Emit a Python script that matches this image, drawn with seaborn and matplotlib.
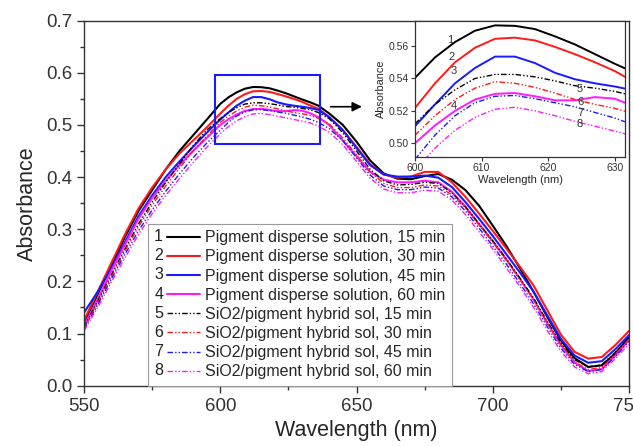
import numpy as np
import pandas as pd
import matplotlib
matplotlib.use("Agg")
import matplotlib.pyplot as plt
import matplotlib.patches as patches
import seaborn as sns
from matplotlib.legend_handler import HandlerLine2D
from matplotlib.lines import Line2D
from matplotlib.text import Text
from matplotlib.ticker import MultipleLocator, FormatStrFormatter

# ---- data ----
wavelength = [550, 555, 560, 565, 570, 575, 580, 585, 590, 595,
              600, 603, 606, 609, 612, 615, 618, 621, 624, 627, 630, 633, 636,
              640, 645, 650, 655, 660, 665, 670, 675, 680, 685, 690, 695,
              700, 705, 710, 715, 720, 725, 730, 735, 740, 745, 750]

pig_15 = [0.120, 0.175, 0.230, 0.285, 0.335, 0.375, 0.415, 0.450, 0.480, 0.510,
          0.5404, 0.553, 0.5625, 0.5695, 0.5728, 0.5725, 0.5705, 0.566, 0.561, 0.555, 0.549, 0.5435, 0.537,
          0.522, 0.500, 0.468, 0.432, 0.407, 0.397, 0.396, 0.402, 0.406, 0.395, 0.375, 0.345,
          0.307, 0.268, 0.225, 0.180, 0.132, 0.087, 0.053, 0.036, 0.039, 0.062, 0.093]
pig_30 = [0.125, 0.180, 0.235, 0.290, 0.340, 0.380, 0.415, 0.445, 0.470, 0.495,
          0.5218, 0.537, 0.550, 0.559, 0.5645, 0.5652, 0.5635, 0.5595, 0.555, 0.550, 0.5445, 0.5375, 0.531,
          0.515, 0.490, 0.458, 0.425, 0.405, 0.399, 0.401, 0.410, 0.410, 0.390, 0.362, 0.330,
          0.297, 0.263, 0.228, 0.192, 0.145, 0.098, 0.065, 0.052, 0.055, 0.078, 0.105]
pig_45 = [0.140, 0.180, 0.225, 0.275, 0.325, 0.365, 0.400, 0.430, 0.458, 0.485,
          0.5105, 0.524, 0.537, 0.5465, 0.5535, 0.5535, 0.5495, 0.5435, 0.5395, 0.537, 0.535, 0.5325, 0.529,
          0.515, 0.490, 0.456, 0.423, 0.405, 0.401, 0.401, 0.403, 0.399, 0.381, 0.352, 0.320,
          0.287, 0.252, 0.217, 0.180, 0.135, 0.090, 0.058, 0.044, 0.047, 0.070, 0.097]
pig_60 = [0.115, 0.165, 0.220, 0.270, 0.320, 0.360, 0.393, 0.423, 0.450, 0.475,
          0.500, 0.511, 0.520, 0.527, 0.5305, 0.531, 0.529, 0.5265, 0.5265, 0.5285, 0.5275, 0.5225, 0.515,
          0.500, 0.470, 0.440, 0.410, 0.395, 0.390, 0.390, 0.393, 0.390, 0.372, 0.343, 0.310,
          0.277, 0.242, 0.205, 0.165, 0.120, 0.078, 0.045, 0.028, 0.032, 0.058, 0.088]
sol_15 = [0.112, 0.162, 0.212, 0.262, 0.310, 0.352, 0.390, 0.425, 0.460, 0.490,
          0.512, 0.524, 0.533, 0.540, 0.5425, 0.5425, 0.541, 0.5385, 0.5355, 0.534, 0.532, 0.529, 0.524,
          0.512, 0.485, 0.450, 0.415, 0.393, 0.385, 0.386, 0.390, 0.388, 0.370, 0.343, 0.310,
          0.278, 0.243, 0.206, 0.168, 0.123, 0.082, 0.050, 0.036, 0.040, 0.064, 0.092]
sol_30 = [0.110, 0.158, 0.208, 0.258, 0.305, 0.346, 0.383, 0.417, 0.450, 0.478,
          0.505, 0.517, 0.527, 0.534, 0.538, 0.537, 0.5345, 0.531, 0.527, 0.524, 0.5215, 0.518, 0.513,
          0.502, 0.475, 0.443, 0.410, 0.388, 0.380, 0.380, 0.385, 0.383, 0.366, 0.340, 0.308,
          0.275, 0.240, 0.203, 0.165, 0.120, 0.079, 0.046, 0.031, 0.035, 0.060, 0.089]
sol_45 = [0.108, 0.155, 0.204, 0.252, 0.297, 0.337, 0.373, 0.406, 0.437, 0.465,
          0.490, 0.505, 0.517, 0.525, 0.529, 0.5295, 0.5275, 0.525, 0.5225, 0.519, 0.5155, 0.511, 0.505,
          0.493, 0.470, 0.437, 0.404, 0.383, 0.376, 0.376, 0.381, 0.379, 0.362, 0.335, 0.302,
          0.268, 0.233, 0.196, 0.157, 0.113, 0.072, 0.041, 0.027, 0.031, 0.056, 0.085]
sol_60 = [0.105, 0.150, 0.198, 0.245, 0.290, 0.330, 0.365, 0.397, 0.428, 0.457,
          0.483, 0.497, 0.508, 0.516, 0.521, 0.5222, 0.520, 0.517, 0.5135, 0.5105, 0.5075, 0.504, 0.498,
          0.486, 0.462, 0.430, 0.398, 0.377, 0.370, 0.370, 0.375, 0.373, 0.356, 0.328, 0.295,
          0.262, 0.226, 0.190, 0.150, 0.106, 0.066, 0.036, 0.023, 0.027, 0.052, 0.080]

labels = ["Pigment disperse solution, 15 min", "Pigment disperse solution, 30 min",
          "Pigment disperse solution, 45 min", "Pigment disperse solution, 60 min",
          "SiO2/pigment hybrid sol, 15 min", "SiO2/pigment hybrid sol, 30 min",
          "SiO2/pigment hybrid sol, 45 min", "SiO2/pigment hybrid sol, 60 min"]
series = [pig_15, pig_30, pig_45, pig_60, sol_15, sol_30, sol_45, sol_60]
colors = ["black", "#ff1a1a", "#1a1aff", "#ff1aff"] * 2
dashdot = (0, (4, 1.5, 1, 1.5, 1, 1.5))
styles = ["-"] * 4 + [dashdot] * 4

# ---- style ----
sns.set_style("ticks")
plt.rcParams["font.family"] = ["Liberation Sans", "DejaVu Sans"]
plt.rcParams["axes.edgecolor"] = "#333333"
plt.rcParams["xtick.color"] = "#333333"
plt.rcParams["ytick.color"] = "#333333"


class NumberedHandler(HandlerLine2D):
    # legend entry: "n  ------"
    def __init__(self, num):
        super().__init__()
        self.num = num

    def create_artists(self, legend, orig_handle, xdescent, ydescent,
                       width, height, fontsize, trans):
        y = height / 2 - ydescent
        x0 = -xdescent
        gap = fontsize * 0.8
        line = Line2D([x0 + gap, x0 + width], [y, y])
        self.update_prop(line, orig_handle, legend)
        line.set_transform(trans)
        txt = Text(x0, y, self.num, fontsize=fontsize, va="center", ha="left",
                   color="#222222", transform=trans)
        return [line, txt]


fig = plt.figure(figsize=(6.33, 4.46), dpi=100)
ax = fig.add_axes([0.1327, 0.1352, 0.861, 0.8184])

for vals, c, ls in zip(series, colors, styles):
    lw = 1.5 if ls == "-" else 1.0
    sns.lineplot(x=wavelength, y=vals, color=c, linestyle=ls, lw=lw, ax=ax, legend=False)

ax.set_xlim(550, 750)
ax.set_ylim(0, 0.7)
ax.xaxis.set_major_locator(MultipleLocator(50))
ax.xaxis.set_minor_locator(MultipleLocator(25))
ax.yaxis.set_major_locator(MultipleLocator(0.1))
ax.yaxis.set_minor_locator(MultipleLocator(0.05))
ax.yaxis.set_major_formatter(FormatStrFormatter("%.1f"))
ax.tick_params(which="major", direction="out", length=5, width=1, labelsize=13.5)
ax.tick_params(which="minor", direction="out", length=3, width=1)
ax.set_xlabel("Wavelength (nm)", fontsize=15.5, labelpad=4)
ax.set_ylabel("Absorbance", fontsize=15.5, labelpad=6)
for s in ax.spines.values():
    s.set_linewidth(1.0)

# zoom box + arrow
ax.add_patch(patches.Rectangle((598, 0.464), 38.6, 0.132, fill=False,
                               ec="#1a1aff", lw=1.5, zorder=5))
ax.annotate("", xy=(653, 0.535), xytext=(639.5, 0.535),
            arrowprops=dict(arrowstyle="-|>", color="black", lw=1.2,
                            mutation_scale=14))

handles = ax.get_lines()[:8]
leg = ax.legend(handles, labels, loc="lower left", bbox_to_anchor=(0.117, 0.0),
                borderaxespad=0, fontsize=11.5, frameon=True, fancybox=False,
                edgecolor="#999999", framealpha=1, labelspacing=0.26,
                handlelength=2.9, handletextpad=0.3, borderpad=0.4,
                handler_map={h: NumberedHandler(str(i + 1)) for i, h in enumerate(handles)})
leg.get_frame().set_linewidth(0.8)

# ---- inset ----
ax_in = fig.add_axes([0.6556, 0.648, 0.3318, 0.306])
for vals, c, ls in zip(series, colors, styles):
    lw = 1.4 if ls == "-" else 1.0
    sns.lineplot(x=wavelength[10:23], y=vals[10:23], color=c, linestyle=ls, lw=lw,
                 ax=ax_in, legend=False)
ax_in.set_xlim(600, 631.5)
ax_in.set_ylim(0.4915, 0.5758)
ax_in.xaxis.set_major_locator(MultipleLocator(10))
ax_in.yaxis.set_major_locator(MultipleLocator(0.02))
ax_in.yaxis.set_major_formatter(FormatStrFormatter("%.2f"))
ax_in.tick_params(direction="out", length=3, width=0.8, labelsize=7.5, pad=1.5)
ax_in.set_xlabel("Wavelength (nm)", fontsize=8, labelpad=1)
ax_in.set_ylabel("Absorbance", fontsize=7.8, labelpad=2)
for s in ax_in.spines.values():
    s.set_linewidth(0.9)

num_x = [605.25, 605.5, 605.75, 605.75, 624.75, 624.75, 624.75, 624.75]
num_y = [0.5636, 0.5535, 0.5444, 0.5232, 0.5333, 0.5253, 0.5186, 0.5117]
for i, (nx, ny) in enumerate(zip(num_x, num_y)):
    ax_in.text(nx, ny, str(i + 1), fontsize=8, color="#333333", ha="center", va="center")

fig.savefig("out.png", dpi=100)
